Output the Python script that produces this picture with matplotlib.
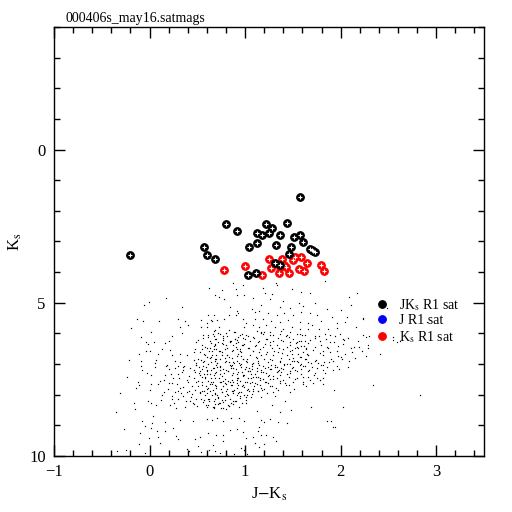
import numpy as np
import matplotlib
matplotlib.use("Agg")
import matplotlib.pyplot as plt
from matplotlib.lines import Line2D

plt.rcParams['font.family'] = ['Liberation Serif', 'DejaVu Serif']
plt.rcParams['mathtext.fontset'] = 'stix'

title = "000406s_may16.satmags"

# faint field stars (J-Ks, Ks)
field_jk = [
    0.87, 0.98, 0.62, 0.76, 0.90, 0.69, 0.73, 0.78, 0.92, 0.99, 0.17, -0.01, -0.06, 0.34, 0.84, 0.91,
    0.93, 0.83, 0.90, 0.61, 0.67, -0.13, -0.07, 0.10, 0.30, 0.37, 0.54, 0.60, 0.64, 0.65, 0.71, 0.78,
    0.98, 1.01, 0.32, 0.40, 0.54, 0.60, 0.73, 0.83, 0.99, 0.34, 0.68, 0.72, 0.80, 0.89, 0.97, 0.67,
    0.70, 0.77, 0.85, 0.92, 1.00, 0.23, -0.04, 0.05, 0.16, 0.20, 0.64, 0.68, 0.80, 0.90, 0.97, 0.55,
    0.62, 0.67, 0.73, 0.79, 0.87, 0.95, -0.04, 0.00, -0.11, 0.09, 0.21, 0.23, 0.32, 0.39, 0.57, 0.60,
    0.65, 0.70, 0.76, 0.83, 0.91, 0.98, -0.09, 0.07, 0.27, 0.32, 0.47, 0.57, 0.64, 0.71, 0.80, 0.88,
    0.94, 1.01, -0.09, 0.06, 0.17, 0.30, 0.35, 0.52, 0.59, 0.66, 0.74, 0.85, 0.96, 1.01,
    1.32, 1.33, 1.84, 1.19, 1.21, 1.28, 1.49, 1.58, 1.68, 2.17, 2.09, 1.08, 1.26, 1.40, 1.56, 1.61,
    1.73, 2.11, 1.17, 1.36, 1.47, 1.86, 2.00, 1.07, 1.10, 1.15, 1.24, 1.33, 1.41, 1.50, 1.59, 1.68,
    1.75, 1.91, 2.07, 2.23, 1.10, 1.19, 1.27, 1.36, 1.45, 1.57, 1.66, 1.70, 1.79, 1.96, 2.05, 1.08,
    1.15, 1.22, 1.31, 1.40, 1.49, 1.57, 1.66, 1.77, 1.87, 1.96, 2.16, 1.17, 1.20, 1.26, 1.36, 1.43,
    1.54, 1.63, 1.73, 1.84, 1.94, 2.23, 2.30, 1.09, 1.15, 1.22, 1.29, 1.38, 1.47, 1.56, 1.66, 1.78,
    1.89, 2.02, 2.55, 2.59, 1.11, 1.19, 1.26, 1.35, 1.44, 1.54, 1.64, 1.73, 1.86, 1.97, 2.14, 2.29,
    1.08, 1.15, 1.22, 1.30, 1.39, 1.49, 1.58, 1.66, 1.78, 1.89, 2.00, 2.41, 1.11, 1.20, 1.28, 1.36,
    1.46, 1.54, 1.64, 1.73, 1.83, 1.92, 2.01, 2.09, 1.08, 1.15, 1.24, 1.33, 1.41, 1.50, 1.61, 1.70,
    1.79, 1.96, 2.08,
    -0.03, 0.02, -0.11, -0.14, 0.02, 0.11, 0.20, 0.25, 0.30, 0.35, 0.39, 0.32, 0.27, 0.15, 0.12, 0.21,
    0.23, 0.30, 0.35, 0.41, 0.42, 0.46, 0.49, -0.16, -0.02, 0.01, 0.53, 0.57, 0.60, 0.64, 0.68, 0.74,
    0.80, 0.87, 0.93, 0.99, 1.03, 0.55, 0.59, 0.64, 0.69, 0.75, 0.80, 0.85, 0.91, 0.97, 1.02, 0.55,
    0.60, 0.66, 0.71, 0.76, 0.82, 0.87, 0.93, 0.99, 1.04, 0.57, 0.62, 0.68, 0.74, 0.79, 0.85, 0.90,
    0.97, 1.01, 0.60, 0.67, 0.75, 0.83, 0.60, 0.65, 0.71, 0.77, 0.85, 0.94, 0.99, -0.08, 0.03, 0.16,
    0.32, 0.45, 0.02, 0.08, 0.16, 0.25, 0.09, -0.10, -0.11, -0.01, 0.28, 0.30, 0.48, 0.53, 0.61, 0.70,
    0.77, 0.84, 0.91, 0.98, 1.01, 0.77, 0.66, 0.51, 0.39, 0.41, 0.54, 0.62, 0.68, 0.74, 0.80, 0.88,
    0.96, 0.99, 1.02, -0.34, -0.25, -0.05,
    1.07, 1.12, 1.17, 1.22, 1.27, 1.34, 1.40, 1.47, 1.52, 1.59, 1.66, 1.73, 1.81, 1.98, 1.06, 1.13,
    1.19, 1.25, 1.33, 1.40, 1.46, 1.54, 1.61, 1.68, 1.75, 1.10, 1.16, 1.22, 1.28, 1.36, 1.43, 1.50,
    1.61, 1.81, 1.08, 1.13, 1.20, 1.29, 1.47, 1.06, 1.17, 1.31, 1.42, 1.93, 2.34, 1.28, 1.48, 1.69,
    2.02, 1.12, 1.37, 1.17, 1.26, 1.20, 1.34, 1.44, 1.86, 1.90, 1.94, 1.15, 1.13, 1.17, 1.22, 1.08,
    1.29, 1.32, 1.10, 1.15, 1.20,
    2.48, 2.23, 2.55, 2.83, 1.92, 2.62, 2.90,
]
field_ks = [
    4.34, 4.41, 4.52, 4.58, 4.56, 4.76, 4.80, 4.89, 4.76, 4.76, 4.84, 4.99, 5.08, 5.15, 5.13, 5.26,
    5.34, 5.39, 5.41, 5.39, 5.39, 5.52, 5.58, 5.58, 5.54, 5.58, 5.56, 5.65, 5.56, 5.61, 5.56, 5.54,
    5.54, 5.65, 5.78, 5.71, 5.78, 5.78, 5.78, 5.89, 5.80, 6.00, 5.89, 6.00, 6.00, 5.97, 6.02, 6.08,
    6.19, 6.21, 6.26, 6.21, 6.17, 6.10, 6.28, 6.28, 6.32, 6.26, 6.32, 6.39, 6.39, 6.30, 6.39, 6.50,
    6.56, 6.50, 6.58, 6.50, 6.54, 6.50, 6.58, 6.58, 6.67, 6.67, 6.54, 6.69, 6.67, 6.69, 6.67, 6.76,
    6.69, 6.82, 6.71, 6.76, 6.73, 6.82, 6.89, 6.87, 6.89, 6.93, 6.87, 6.91, 6.93, 6.98, 6.89, 6.96,
    6.98, 6.91, 7.06, 7.10, 7.06, 7.06, 7.10, 7.10, 7.10, 7.12, 7.10, 7.06, 7.10, 7.10,
    4.34, 4.41, 4.30, 4.52, 4.69, 4.71, 4.56, 4.65, 4.67, 4.69, 4.80, 4.84, 4.89, 4.93, 5.02, 5.10,
    5.02, 5.06, 5.06, 5.13, 5.17, 5.21, 5.23, 5.21, 5.30, 5.26, 5.32, 5.39, 5.34, 5.41, 5.30, 5.34,
    5.39, 5.47, 5.45, 5.50, 5.52, 5.54, 5.61, 5.63, 5.56, 5.63, 5.67, 5.73, 5.61, 5.67, 5.63, 5.73,
    5.78, 5.71, 5.78, 5.84, 5.78, 5.86, 5.84, 5.84, 5.86, 5.82, 5.80, 6.00, 5.95, 6.04, 6.02, 6.08,
    6.02, 6.04, 6.10, 6.02, 6.08, 6.04, 6.10, 6.15, 6.24, 6.19, 6.26, 6.21, 6.28, 6.26, 6.32, 6.24,
    6.28, 6.19, 6.13, 6.28, 6.39, 6.43, 6.39, 6.47, 6.43, 6.43, 6.50, 6.43, 6.45, 6.41, 6.43, 6.47,
    6.56, 6.60, 6.67, 6.58, 6.63, 6.67, 6.76, 6.71, 6.65, 6.60, 6.76, 6.67, 6.78, 6.82, 6.86, 6.91,
    6.84, 6.91, 6.82, 6.89, 6.93, 6.91, 6.82, 6.91, 6.98, 7.04, 7.10, 7.08, 7.04, 7.10, 7.06, 7.10,
    7.04, 7.06, 7.10,
    7.28, 7.36, 7.67, 7.78, 7.65, 7.54, 7.63, 7.45, 7.32, 7.21, 7.52, 7.78, 7.91, 7.91, 8.17, 8.32,
    8.13, 8.15, 8.04, 7.89, 8.21, 8.30, 8.15, 8.26, 8.19, 8.26, 7.23, 7.34, 7.19, 7.45, 7.28, 7.34,
    7.21, 7.30, 7.45, 7.36, 7.23, 7.60, 7.71, 7.58, 7.67, 7.60, 7.65, 7.69, 7.63, 7.73, 7.60, 7.89,
    7.95, 7.84, 8.00, 7.91, 8.02, 7.89, 7.95, 8.02, 7.89, 8.17, 8.21, 8.13, 8.26, 8.17, 8.28, 8.19,
    8.26, 8.17, 8.41, 8.39, 8.45, 8.36, 8.80, 8.84, 8.76, 8.86, 8.76, 8.76, 8.86, 8.86, 8.91, 8.89,
    8.82, 8.86, 9.08, 9.19, 9.19, 9.08, 9.39, 9.26, 9.60, 9.41, 9.36, 9.45, 9.45, 9.39, 9.26, 9.30,
    9.30, 9.15, 9.13, 9.21, 9.41, 9.52, 9.63, 9.69, 9.76, 9.84, 9.87, 9.80, 9.84, 9.91, 9.89, 9.93,
    9.74, 9.80, 9.93, 9.84, 9.80, 9.89,
    7.17, 7.23, 7.19, 7.28, 7.17, 7.23, 7.17, 7.28, 7.21, 7.17, 7.23, 7.28, 7.19, 7.17, 7.45, 7.41,
    7.50, 7.36, 7.45, 7.52, 7.41, 7.47, 7.43, 7.52, 7.45, 7.63, 7.67, 7.58, 7.71, 7.63, 7.67, 7.60,
    7.65, 7.65, 7.80, 7.89, 7.82, 7.91, 7.91, 8.06, 8.06, 8.04, 8.19, 7.86, 7.67, 8.34, 8.49, 8.41,
    8.41, 8.54, 8.56, 8.82, 8.78, 8.89, 8.89, 8.93, 8.86, 8.86, 9.06, 9.06, 9.19, 9.30, 9.30, 9.39,
    9.39, 9.52, 9.58, 9.71, 9.60,
    5.18, 5.53, 6.20, 8.00, 9.05, 6.25, 5.62,
]

# extra stars in the densest part of the cloud (0.45 < J-Ks < 1.7, 5.9 < Ks < 8.5)
core_jk = [
    0.67, 0.88, 1.12, 1.17, 1.26, 1.38, 1.47,
    0.61, 0.74, 0.81, 0.945, 1.03, 1.19, 1.295, 1.434, 1.574,
    0.56, 0.685, 0.77, 0.89, 0.98, 1.085, 1.225, 1.347, 1.504,
    0.49, 0.63, 0.72, 0.84, 0.93, 1.05, 1.138, 1.26, 1.40, 1.54, 1.626,
    0.545, 0.67, 0.77, 0.875, 0.98, 1.10, 1.207, 1.33, 1.469, 1.59,
    0.475, 0.60, 0.70, 0.81, 0.91, 1.03, 1.155, 1.277, 1.40, 1.52, 1.64,
    0.53, 0.65, 0.755, 0.86, 0.96, 1.085, 1.225, 1.347, 1.469, 1.608,
    0.58, 0.70, 0.81, 0.93, 1.05, 1.17, 1.295, 1.434, 1.556, 1.66,
    0.51, 0.63, 0.74, 0.86, 0.98, 1.12, 1.26, 1.38, 1.504, 1.626,
    0.56, 0.685, 0.79, 0.91, 1.015, 1.138, 1.24, 1.364, 1.486,
    0.49, 0.615, 0.74, 0.84, 0.945, 1.068, 1.19, 1.31, 1.434, 1.574,
    0.545, 0.67, 0.77, 0.875, 0.998, 1.12, 1.26, 1.38,
    0.475, 0.60, 0.70, 0.82, 0.93, 1.05, 1.17, 1.33, 1.469,
    0.53, 0.63, 0.755, 0.86, 0.98, 1.10, 1.24, 1.364,
    0.58, 0.685, 0.79, 0.91, 1.03, 1.155, 1.295,
    0.49, 0.615, 0.74, 0.82, 0.875, 0.945, 1.068, 1.207,
    0.545, 0.65, 0.77, 0.86, 0.98, 1.12, 1.26,
    0.60, 0.70, 0.81, 0.91, 1.03, 1.17,
    0.53, 0.63, 0.755, 0.86, 0.96, 1.085,
    0.58, 0.685, 0.79, 0.91, 1.015,
    0.615, 0.72, 0.84, 0.945,
    0.56, 0.67, 0.77, 0.875,
    0.615, 0.72, 0.82,
    0.67, 0.77,
]
core_ks = [
    5.93, 5.96, 5.92, 5.97, 5.95, 5.91, 5.96,
    6.06, 6.03, 6.07, 6.04, 6.08, 6.02, 6.06, 6.05, 6.03,
    6.15, 6.18, 6.14, 6.17, 6.16, 6.13, 6.18, 6.15, 6.17,
    6.28, 6.25, 6.29, 6.26, 6.28, 6.24, 6.29, 6.27, 6.25, 6.28, 6.26,
    6.37, 6.40, 6.36, 6.39, 6.37, 6.41, 6.36, 6.39, 6.38, 6.40,
    6.50, 6.47, 6.51, 6.48, 6.50, 6.47, 6.51, 6.48, 6.50, 6.49, 6.47,
    6.61, 6.58, 6.62, 6.59, 6.61, 6.58, 6.62, 6.60, 6.58, 6.61,
    6.71, 6.69, 6.72, 6.68, 6.71, 6.69, 6.72, 6.70, 6.68, 6.71,
    6.82, 6.79, 6.83, 6.80, 6.82, 6.79, 6.83, 6.81, 6.79, 6.82,
    6.93, 6.90, 6.94, 6.91, 6.93, 6.90, 6.94, 6.92, 6.90,
    7.04, 7.01, 7.05, 7.02, 7.04, 7.01, 7.05, 7.03, 7.01, 7.04,
    7.15, 7.12, 7.16, 7.13, 7.15, 7.12, 7.16, 7.14,
    7.26, 7.23, 7.27, 7.24, 7.26, 7.23, 7.27, 7.25, 7.23,
    7.37, 7.34, 7.38, 7.35, 7.37, 7.34, 7.38, 7.36,
    7.47, 7.44, 7.48, 7.45, 7.47, 7.44, 7.48,
    7.58, 7.55, 7.59, 7.56, 7.58, 7.55, 7.59, 7.57,
    7.69, 7.66, 7.70, 7.67, 7.69, 7.66, 7.70,
    7.80, 7.77, 7.81, 7.78, 7.80, 7.77,
    7.91, 7.88, 7.92, 7.89, 7.91, 7.88,
    8.02, 7.99, 8.03, 8.00, 8.02,
    8.13, 8.10, 8.14, 8.11,
    8.23, 8.20, 8.24, 8.21,
    8.34, 8.31, 8.35,
    8.45, 8.42,
]

# more stars along the diagonal band and in the sparse wings
band_jk = [
    0.18, 0.22, 0.27, 0.31, 0.36, 0.41, 0.44, 0.47, 0.51, 0.53, 0.19, 0.24, 0.29, 0.33, 0.38, 0.43,
    0.46, 0.50, 0.52, 0.15, 0.26, 0.35, 0.40, 0.48, 0.54, 0.20, 0.30, 0.37, 0.42, 0.45, 0.49, 0.13,
    0.23, 0.28, 0.34, 0.39, 0.44, 0.51, 0.55, 0.16,
    1.06, 1.09, 1.13, 1.16, 1.18, 1.21, 1.24, 1.27, 1.29, 1.32, 1.35, 1.37, 1.41, 1.44, 1.46, 1.49,
    1.52, 1.55, 1.58, 1.61, 1.63, 1.66, 1.69, 1.72, 1.75, 1.78, 1.81, 1.84, 1.88, 1.92, 1.07, 1.11,
    1.14, 1.19, 1.23, 1.26, 1.31, 1.34, 1.38, 1.42, 1.47, 1.51, 1.54, 1.59, 1.64, 1.67, 1.71, 1.76,
    1.82, 1.86,
    1.46, 1.49, 1.53, 1.57, 1.60, 1.62, 1.65, 1.68, 1.71, 1.74, 1.77, 1.79, 1.82, 1.85, 1.87, 1.90,
    1.93, 1.96, 1.99, 2.02, 2.05, 2.08, 2.11, 2.15, 2.18, 2.22, 2.26, 2.29, 1.51, 1.58, 1.66, 1.73,
    1.81, 1.89, 1.97, 2.04, 2.12, 2.19, 2.27, 1.55,
    0.56, 0.58, 0.61, 0.62, 0.64, 0.66, 0.68, 0.69, 0.71, 0.73, 0.75, 0.76, 0.78, 0.79, 0.81, 0.83,
    0.85, 0.86, 0.88, 0.89, 0.91, 0.93, 0.95, 0.96, 0.98, 0.99, 1.01, 1.03, 1.05, 1.07, 0.57, 0.60,
    0.63, 0.65, 0.67, 0.70, 0.72, 0.74, 0.77, 0.80, 0.82, 0.84, 0.87, 0.90, 0.92, 0.94, 0.97, 1.00,
    1.02, 1.04, 0.59, 0.66, 0.73, 0.80, 0.87, 0.94, 1.01, 1.08, 0.70, 0.86,
    0.47, 0.51, 0.54, 0.58, 0.61, 0.64, 0.68, 0.71, 0.74, 0.77, 0.81, 0.84, 0.87, 0.90, 0.93, 0.96,
    0.99, 1.02, 0.49, 0.56, 0.63, 0.69, 0.76, 0.83, 0.89, 0.95, 1.01, 1.04, 0.66, 0.79,
    -0.31, -0.22, -0.15, -0.08, -0.02, 0.04, 0.09, 0.13, -0.27, -0.19, -0.12, -0.05, 0.02, 0.07,
    0.11, -0.35, -0.24, -0.09, 0.00, 0.06,
]
band_ks = [
    7.02, 7.31, 7.12, 7.47, 7.05, 7.38, 7.71, 7.19, 7.56, 7.93, 7.83, 8.05, 7.66, 7.96, 8.21, 8.09,
    7.44, 8.37, 7.28, 7.52, 8.28, 7.74, 7.58, 7.86, 8.15, 7.16, 7.89, 8.41, 7.12, 8.27, 7.03, 8.01,
    7.61, 8.43, 7.27, 7.91, 7.99, 7.71, 7.41, 7.35,
    7.33, 7.71, 6.96, 7.52, 7.84, 7.14, 7.62, 7.03, 7.39, 7.77, 7.18, 7.55, 6.99, 7.33, 7.68, 7.12,
    7.49, 6.94, 7.31, 7.58, 7.06, 7.42, 6.97, 7.36, 7.13, 7.51, 7.02, 7.29, 6.92, 7.21, 7.06, 7.43,
    7.89, 7.27, 7.93, 7.48, 7.09, 7.86, 7.26, 7.61, 7.01, 7.81, 7.22, 6.99, 7.71, 7.19, 7.63, 6.95,
    7.44, 7.11,
    6.12, 6.55, 6.31, 6.78, 6.04, 6.42, 6.66, 6.21, 6.53, 6.86, 6.09, 6.37, 6.71, 6.18, 6.48, 6.83,
    6.27, 6.59, 6.02, 6.34, 6.67, 6.15, 6.49, 6.81, 6.26, 6.58, 6.11, 6.39, 6.89, 6.24, 6.93, 6.14,
    6.58, 6.06, 6.75, 6.22, 6.62, 6.44, 6.73, 6.46,
    7.06, 7.42, 7.77, 8.13, 7.21, 7.58, 7.93, 8.29, 7.09, 7.46, 7.81, 8.17, 7.28, 7.63, 7.99, 8.36,
    7.14, 7.51, 7.86, 8.22, 7.33, 7.69, 8.04, 7.01, 7.38, 7.74, 8.09, 7.24, 7.61, 7.97, 7.88, 7.31,
    7.64, 8.02, 7.36, 7.71, 8.06, 7.19, 7.54, 7.89, 7.22, 7.58, 7.94, 7.17, 7.52, 7.91, 7.26, 7.57,
    7.84, 7.12, 8.33, 8.41, 8.26, 8.46, 8.31, 8.39, 8.27, 7.41, 7.03, 7.04,
    6.62, 6.21, 6.88, 6.44, 6.13, 6.76, 6.33, 6.97, 6.56, 6.08, 6.69, 6.27, 6.92, 6.45, 6.12, 6.73,
    6.36, 6.85, 6.97, 6.06, 6.49, 6.84, 6.31, 6.94, 6.19, 6.58, 6.04, 6.47, 6.01, 6.79,
    7.94, 6.88, 8.47, 7.21, 6.36, 8.71, 7.64, 6.52, 9.12, 5.83, 7.57, 9.02, 5.94, 8.33,
    9.58, 8.58, 7.41, 6.12, 7.86, 6.98,
]

# saturated in J and Ks (black)
jk_sat_x = [-0.20, 1.57, 0.80, 0.92, 1.22, 1.12, 1.18, 1.25, 1.28, 1.44, 1.37, 1.51, 1.57, 1.61, 1.12,
            1.04, 1.32, 1.48, 1.68, 1.71, 1.73, 1.70, 0.57, 0.60, 0.69, 1.46, 1.31, 1.37, 1.11, 1.03]
jk_sat_y = [3.43, 1.56, 2.44, 2.66, 2.44, 2.73, 2.80, 2.71, 2.57, 2.40, 2.78, 2.86, 2.80, 3.02, 3.06,
            3.17, 3.10, 3.17, 3.24, 3.30, 3.34, 3.28, 3.18, 3.45, 3.58, 3.41, 3.71, 3.76, 4.02, 4.08]

# saturated in J only (blue) - none in this field
j_sat_x = []
j_sat_y = []

# saturated in Ks only (red)
k_sat_x = [0.78, 1.00, 1.25, 1.39, 1.27, 1.36, 1.41, 1.43, 1.35, 1.46, 1.18, 1.52, 1.59, 1.56, 1.62,
           1.65, 1.79, 1.83, 1.50]
k_sat_y = [3.94, 3.80, 3.58, 3.58, 3.87, 3.82, 3.76, 3.84, 4.04, 4.04, 4.08, 3.50, 3.50, 3.89, 3.97,
           3.71, 3.76, 3.97, 3.62]

labels = [r'JK$_{\rm s}$ R1 sat', 'J R1 sat', r'K$_{\rm s}$ R1 sat']
colors = ['black', 'blue', 'red']

fig = plt.figure(figsize=(5.12, 5.12), dpi=100)
ax = fig.add_axes([0.1055, 0.1094, 0.8398, 0.8379])

for xs, ys in [(field_jk, field_ks), (core_jk, core_ks), (band_jk, band_ks)]:
    ax.plot(xs, ys, 's', color='black', ms=0.85, mew=0, zorder=1)


def sat_points(x, y, c):
    # pgplot-like symbol: solid disc with a small white cross cut into it
    ax.scatter(x, y, s=30, marker='o', facecolors=c, edgecolors=c, linewidths=0.8, zorder=3)
    ax.scatter(x, y, s=5, marker='+', color='white', linewidths=0.8, zorder=3)


sat_points(k_sat_x, k_sat_y, 'red')
sat_points(jk_sat_x, jk_sat_y, 'black')
sat_points(j_sat_x, j_sat_y, 'blue')

ax.set_xlim(-1, 3.5)
ax.set_ylim(10, -4)
ax.set_xticks([-1, 0, 1, 2, 3])
ax.set_yticks([0, 5, 10])
ax.set_xticks(np.arange(-1, 3.51, 0.2), minor=True)
ax.set_yticks(np.arange(-4, 10.1, 1), minor=True)
ax.tick_params(which='both', direction='in', top=True, right=True, width=1, labelsize=12, pad=6)
ax.tick_params(which='major', length=8)
ax.tick_params(which='minor', length=4.5)
ax.xaxis.set_major_formatter(plt.FuncFormatter(lambda v, p: f'{v:g}'.replace('-', '\u2212')))
for s in ax.spines.values():
    s.set_linewidth(1)

ax.set_xlabel(r'J$-$K$_{\rm s}$', fontsize=12, labelpad=4)
ax.set_ylabel(r'K$_{\rm s}$', fontsize=12, labelpad=4)
ax.text(0.026, 1.004, title, transform=ax.transAxes, fontsize=10, ha='left', va='bottom')

handles = [Line2D([], [], marker='o', ls='none', ms=5.5, mfc=c, mec=c, mew=0.8) for c in colors]
ax.legend(handles, labels, loc='upper left', bbox_to_anchor=(0.718, 0.40), frameon=False,
          fontsize=10, labelspacing=0.12, handletextpad=0.7, handlelength=1.0)

fig.savefig('out.png', dpi=100)
